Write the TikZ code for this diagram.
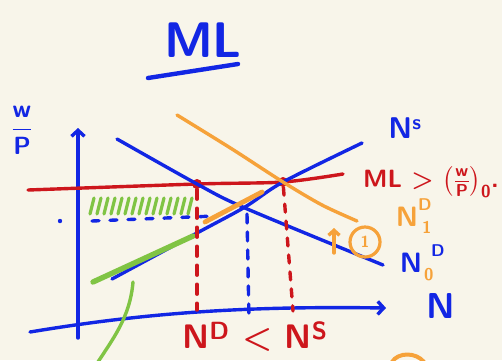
\documentclass[tikz,border=0pt]{standalone}
\usepackage{amsmath}
\usetikzlibrary{
	positioning,
	arrows.meta,
	calc
}
\definecolor{PenBlue}{RGB}{18,38,228}
\definecolor{PenRed}{RGB}{205,22,28}
\definecolor{PenOrange}{RGB}{246,162,58}
\definecolor{PenGreen}{RGB}{128,196,68}
\definecolor{PaperCream}{RGB}{248,245,234}

\tikzset{
	pen/.style={line width=3.4pt, line cap=round, line join=round},
	hand/.style={font=\sffamily\bfseries\boldmath\fontsize{#1}{#1}\selectfont, inner sep=0pt},
	hand/.default=24,
	mldot/.style={circle, fill=PenRed, inner sep=0pt, minimum size=10pt},
	barb/.style={-{Straight Barb[length=6pt,width=13pt]}}
}

\begin{document}
\begin{tikzpicture}[x=1pt,y=-1pt]
				
				\fill[PaperCream] (0,0) rectangle (502,360);
				\useasboundingbox (0,0) rectangle (502,360);
				
				\node[hand=50, PenBlue] (title) at (203,40) {ML};
				\draw[pen, PenBlue, line width=4.4pt] (148,78) -- (238,64);
				
				\coordinate (yfoot) at (78,338);
				\coordinate (ytip) at (78,128);
				\coordinate (xfoot) at (30,332);
				\coordinate (xtip) at (386,308);
				
				\draw[pen, PenBlue, barb] (yfoot) -- (ytip);
				\draw[pen, PenBlue, barb] (xfoot) .. controls (150,312) and (250,306) .. (xtip);
				
				\node[hand=26, PenBlue] (wagelabel) at (22,130) {$\dfrac{\mathsf{w}}{\mathsf{P}}$};
				\node[hand=36, PenBlue] (nlabel) at (441,306) {N};
				
				% minimum wage line and its two points
				\node[mldot] (mlleft) at (197,184) {};
				\node[mldot] (mlright) at (283,182) {};
				\draw[pen, PenRed] plot[smooth] coordinates {(28,190) (mlleft.center) (mlright.center) (343,174)};
				
				\draw[pen, PenBlue] plot[smooth] coordinates {(117,139) (197,184) (245,208) (383,265)};
				\draw[pen, PenBlue] plot[smooth] coordinates {(112,279) (197,233) (245,207) (283,182) (362,143)};
				\draw[pen, PenOrange] plot[smooth] coordinates {(177,115) (232,149) (283,182) (322,205) (357,221)};
				
				\draw[pen, PenOrange, line width=4.8pt] (205,222) -- (262,192);
				\draw[pen, PenGreen, line width=5.4pt] (93,282) -- (193,236);
				\draw[pen, PenGreen] (133,282) .. controls (130,318) and (112,340) .. (96,365);
				
				\foreach \x in {90,97,...,188}
				{
					\draw[pen, PenGreen, line width=3.2pt] (\x,214) -- (\x+4,198);
				}
				
				\fill[PenBlue] (60,221) circle (2.2pt);
				\draw[pen, PenBlue, dash pattern=on 7pt off 11pt] (92,221) -- (215,216);
				
				\coordinate (ndemand) at (197,310);
				\coordinate (nsupply) at (293,311);
				\coordinate (neq) at (249,320);
				
				\draw[pen, PenRed, dash pattern=on 10pt off 9pt] (mlleft) -- (ndemand);
				\draw[pen, PenRed, dash pattern=on 8pt off 9pt] (mlright) -- (nsupply);
				\draw[pen, PenBlue, dash pattern=on 9pt off 9pt] (247,214) -- (neq);
				
				\node[hand=34, PenRed] (gap) at (255,337) {N$^{\mathsf{D}}$ < N$^{\mathsf{S}}$};
				\node[hand=30, PenBlue] (supplylabel) at (405,128) {N$^{\mathsf{s}}$};
				\node[hand=25, PenRed] (mllabel) at (431,182) {ML > $\left(\frac{\mathsf{w}}{\mathsf{P}}\right)_{\mathsf{0}}$.};
				
				\node[hand=28, PenOrange] (newdemand) at (407,217) {N};
				\node[hand=17, PenOrange, anchor=south west] (newdemandsup) at (418,211) {D};
				\node[hand=17, PenOrange, anchor=north west] (newdemandsub) at (422,221) {1};
				
				\node[hand=28, PenBlue] (olddemand) at (411,263) {N};
				\node[hand=17, PenBlue, anchor=south west] (olddemandsup) at (431,257) {D};
				\node[hand=17, PenOrange, anchor=north west] (olddemandsub) at (424,268) {0};
				
				\node[
				circle,
				draw=PenOrange,
				line width=3.2pt,
				minimum size=30pt,
				hand=16,
				text=PenOrange
				]
				(shiftone) at (365,242) {1};
				\draw[pen, PenOrange, -{Straight Barb[length=5pt,width=11pt]}] (334,253) -- (334,228);
				
				\draw[pen, PenOrange, line width=4pt] (392,362) .. controls (398,352) and (416,352) .. (424,362);
				
			\end{tikzpicture}
\end{document}
